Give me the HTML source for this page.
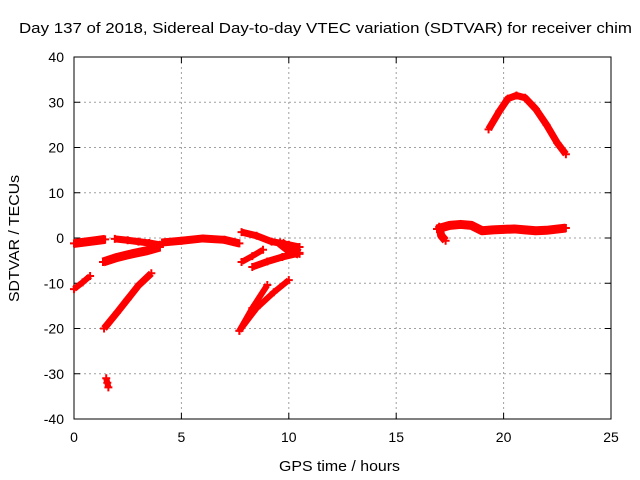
<!DOCTYPE html>
<html><head><meta charset="utf-8"><style>
html,body{margin:0;padding:0;background:#fff;}
svg{display:block;font-family:"Liberation Sans",sans-serif;}
</style></head><body>
<svg id="chart" width="640" height="480">
<text x="19" y="33" textLength="613" lengthAdjust="spacingAndGlyphs" font-size="15" fill="#000">Day 137 of 2018, Sidereal Day-to-day VTEC variation (SDTVAR) for receiver chim</text>
<g id="grid"></g>
<g id="axes"></g>
<g id="series"></g>
<text x="279" y="471" textLength="121" lengthAdjust="spacingAndGlyphs" font-size="15">GPS time / hours</text>
<text transform="translate(19,302) rotate(-90)" textLength="127" lengthAdjust="spacingAndGlyphs" font-size="15">SDTVAR / TECUs</text>
</svg>
<script>
const xTicks=[0,5,10,15,20,25];
const yTicks=[-40,-30,-20,-10,0,10,20,30,40];
const trackHours=[
 [0,0.5,1.0,1.45],
 [1.9,2.5,3.0,3.5,4.0],
 [1.35,2.0,2.7,3.4,4.0],
 [4.1,5,6,7,7.7],
 [7.8,8.5,9.2,10,10.5],
 [9.6,10,10.5],
 [7.8,8.3,8.8],
 [8.3,9,9.7,10.5],
 [0,0.4,0.75],
 [1.4,2,2.5,3,3.6],
 [7.7,8.3,9.0],
 [7.7,8.5,9.3,10],
 [1.5,1.55,1.6],
 [19.3,19.8,20.2,20.6,21,21.5,22,22.5,22.9],
 [16.9,17.5,18,18.5,19,19.5,20,20.5,21,21.5,22,22.9],
 [17,17.1,17.3]
];
const trackValues=[
 [-1.2,-0.9,-0.6,-0.3],
 [-0.2,-0.5,-0.8,-1.1,-1.5],
 [-5.3,-4.3,-3.5,-2.8,-2.0],
 [-1.0,-0.6,-0.1,-0.4,-1.2],
 [1.3,0.5,-0.8,-1.5,-2.0],
 [-1.0,-2.5,-3.5],
 [-5.3,-4.0,-2.6],
 [-6.4,-5.2,-4.2,-3.3],
 [-11.3,-9.8,-8.4],
 [-20,-16.5,-13.5,-10.5,-7.8],
 [-20.5,-15.5,-10.4],
 [-20.5,-15.5,-12,-9.3],
 [-31,-32,-33],
 [24,28,30.8,31.5,31,28.5,25,21,18.5],
 [2,2.8,3,2.8,1.6,1.8,1.9,2.0,1.8,1.6,1.7,2.2],
 [2.5,0.5,-0.6]
];
const trackWidths=[9,7,9,8,7,10,6,7,6,7,6,6,6,7,9,8];
const NS="http://www.w3.org/2000/svg";
const X0=74,X1=611,Y0=419,Y1=57,xmin=0,xmax=25,ymin=-40,ymax=40;
function xs(v){return X0+(v-xmin)/(xmax-xmin)*(X1-X0);}
function ys(v){return Y0-(v-ymin)/(ymax-ymin)*(Y0-Y1);}
function mk(t,a,p){const e=document.createElementNS(NS,t);for(const k in a)e.setAttribute(k,a[k]);p.appendChild(e);return e;}
const grid=document.getElementById('grid'),axes=document.getElementById('axes'),ser=document.getElementById('series');
xTicks.forEach(t=>{const x=xs(t);
 if(t>xmin&&t<xmax){const l=mk('line',{x1:x,x2:x,y1:Y0,y2:Y1,stroke:'#a0a0a0','stroke-dasharray':'2,3'},grid);
 
 }
 mk('line',{x1:x,x2:x,y1:Y0,y2:Y0-6,stroke:'#000'},axes);
 mk('line',{x1:x,x2:x,y1:Y1,y2:Y1+6,stroke:'#000'},axes);
 const tx=mk('text',{x:x,y:Y0+23,'text-anchor':'middle','font-size':14},axes);tx.textContent=t;
 
 
});
yTicks.forEach(t=>{const y=ys(t);
 if(t>ymin&&t<ymax){const l=mk('line',{x1:X0,x2:X1,y1:y,y2:y,stroke:'#a0a0a0','stroke-dasharray':'2,3'},grid);
 
 }
 mk('line',{x1:X0,x2:X0+6,y1:y,y2:y,stroke:'#000'},axes);
 mk('line',{x1:X1,x2:X1-6,y1:y,y2:y,stroke:'#000'},axes);
 const tx=mk('text',{x:X0-10,y:y+5,'text-anchor':'end','font-size':14},axes);tx.textContent=t;
 
 
});
mk('rect',{x:X0,y:Y1,width:X1-X0,height:Y0-Y1,fill:'none',stroke:'#000'},axes);
trackHours.forEach((hs,i)=>{const vs=trackValues[i];
 const pts=hs.map((h,j)=>xs(h)+','+ys(vs[j])).join(' ');
 const pl=mk('polyline',{points:pts,fill:'none',stroke:'#f00','stroke-width':trackWidths[i],'stroke-linejoin':'round'},ser);
 
 
 hs.forEach((h,j)=>{const x=xs(h),y=ys(vs[j]);
  mk('path',{d:`M${x-4},${y}H${x+4}M${x},${y-4}V${y+4}`,stroke:'#f00','stroke-width':2},ser);});
});
</script>
</body></html>
